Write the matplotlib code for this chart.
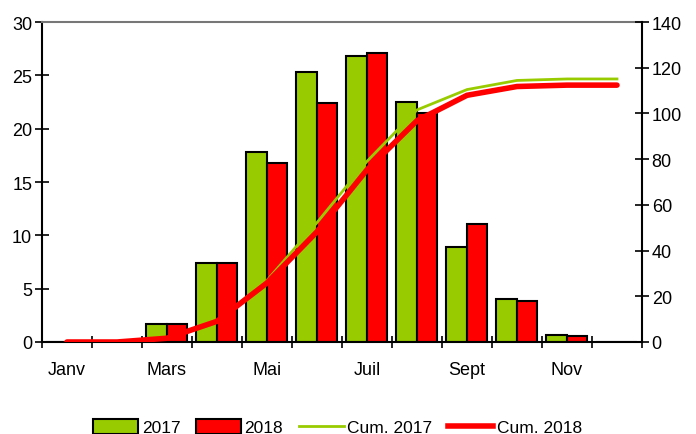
import matplotlib.pyplot as plt
import numpy as np
from matplotlib.patches import Patch
from matplotlib.lines import Line2D

plt.rcParams['font.family'] = ['Liberation Sans', 'DejaVu Sans']

months = ['Janv', 'Fév', 'Mars', 'Avr', 'Mai', 'Juin', 'Juil', 'Août', 'Sept', 'Oct', 'Nov', 'Déc']
shown_labels = ['Janv', '', 'Mars', '', 'Mai', '', 'Juil', '', 'Sept', '', 'Nov', '']
vals_2017 = [0, 0, 1.7, 7.45, 17.8, 25.3, 26.8, 22.5, 8.9, 4.0, 0.65, 0]
vals_2018 = [0, 0, 1.65, 7.4, 16.8, 22.4, 27.1, 21.5, 11.1, 3.85, 0.6, 0]

green = '#99CC00'
red = '#FF0000'

cum_2017 = np.cumsum(vals_2017)
cum_2018 = np.cumsum(vals_2018)
x = np.arange(len(months))

fig = plt.figure(figsize=(6.96, 4.35), dpi=100)
ax = fig.add_axes([0.0603, 0.2115, 0.8621, 0.7355])
w = 0.41
ax.bar(x - w / 2, vals_2017, w, color=green, edgecolor='black', linewidth=1.5, zorder=2)
ax.bar(x + w / 2, vals_2018, w, color=red, edgecolor='black', linewidth=1.5, zorder=2)
ax.set_xlim(-0.5, 11.5)
ax.set_ylim(0, 30)
ax.set_yticks(range(0, 31, 5))
ax.set_xticks(x)
ax.set_xticklabels(shown_labels)
ax.set_xticks(np.arange(-0.5, 12, 1), minor=True)
ax.tick_params(axis='x', which='major', length=0, pad=14, labelsize=13)
ax.tick_params(axis='x', which='minor', direction='inout', length=9, width=1.2)
ax.tick_params(axis='y', direction='inout', length=10, width=1.2, labelsize=13, pad=2)
for s in ['left', 'bottom']:
    ax.spines[s].set_linewidth(1.5)
ax.spines['top'].set_color('#777777')
ax.spines['top'].set_linewidth(1.5)
ax.spines['right'].set_visible(False)

ax2 = ax.twinx()
ax2.plot(x, cum_2017, color=green, linewidth=2)
ax2.plot(x, cum_2018, color=red, linewidth=4, solid_capstyle='round')
ax2.set_ylim(0, 140)
ax2.set_yticks(range(0, 141, 20))
ax2.tick_params(axis='y', direction='inout', length=10, width=1.2, labelsize=13, pad=2)
ax2.spines['right'].set_linewidth(1.5)
for s in ['top', 'left', 'bottom']:
    ax2.spines[s].set_visible(False)

handles = [
    Patch(facecolor=green, edgecolor='black', linewidth=1.5, label='2017'),
    Patch(facecolor=red, edgecolor='black', linewidth=1.5, label='2018'),
    Line2D([], [], color=green, linewidth=2, label='Cum. 2017'),
    Line2D([], [], color=red, linewidth=4, label='Cum. 2018'),
]
fig.legend(handles=handles, loc='center', bbox_to_anchor=(0.485, 0.016), ncol=4, frameon=False,
           fontsize=12.5, handlelength=2.6, handleheight=1.0, handletextpad=0.2, columnspacing=0.9)

fig.savefig('out.png', dpi=100)
